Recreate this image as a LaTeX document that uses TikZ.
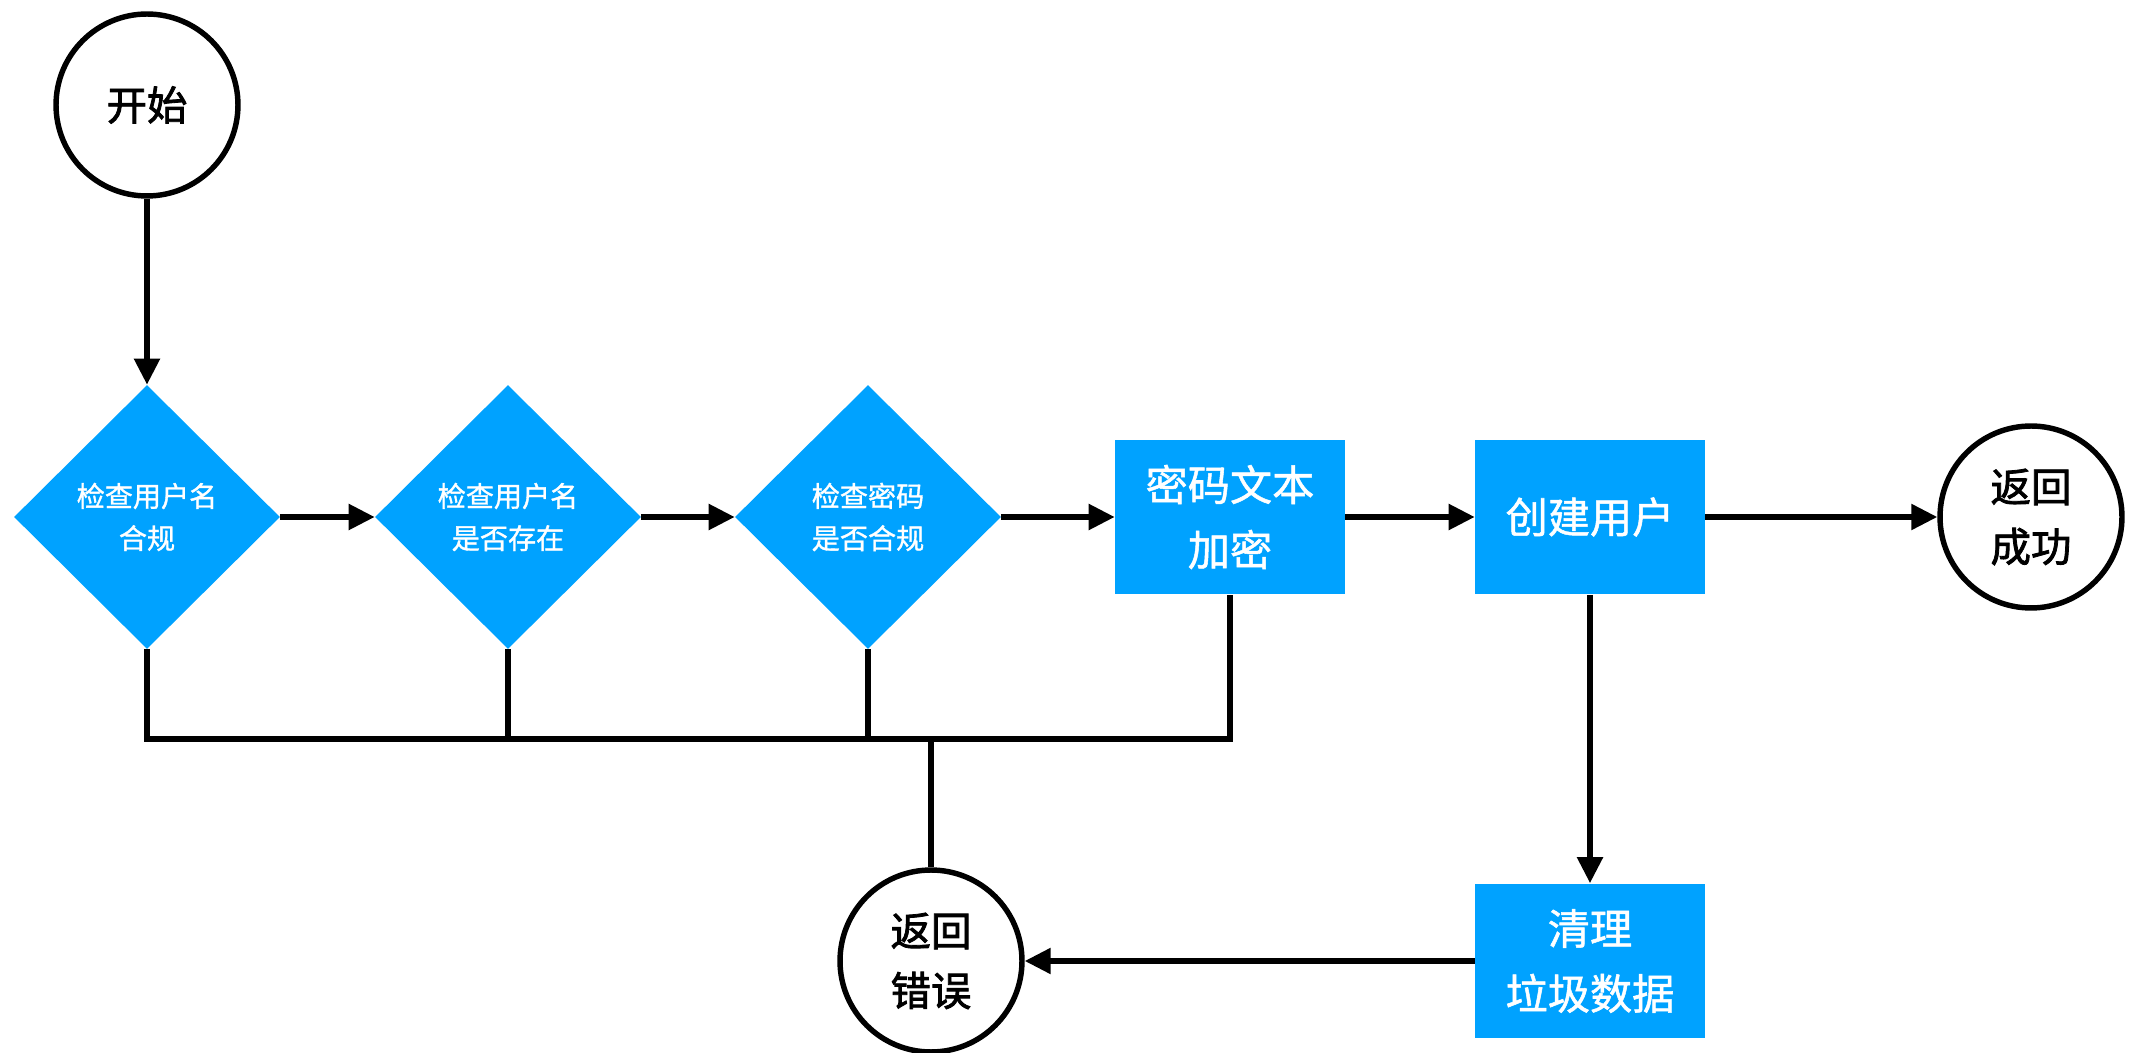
\documentclass[tikz,border=0pt]{standalone}
\usepackage{fontspec}
\newfontfamily\cjk[FakeBold=2]{Noto Sans CJK SC}
\newfontfamily\cjkw[FakeBold=1.2]{Noto Sans CJK SC}
\usetikzlibrary{shapes.geometric,arrows.meta}
\definecolor{fblue}{RGB}{0,162,255}
\begin{document}
\begin{tikzpicture}[x=0.02cm,y=-0.02cm,
  conn/.style={line width=3.1pt},
  arr/.style={conn,-{Triangle[length=0.52cm,width=0.5cm]}},
  term/.style={circle,draw,line width=3.1pt,minimum size=3.64cm,inner sep=0pt,align=center,font=\cjk\fontsize{23}{34}\selectfont},
  decide/.style={diamond,fill=fblue,text=white,minimum width=5.32cm,minimum height=5.28cm,inner sep=0pt,align=center,font=\cjkw\fontsize{16}{24}\selectfont},
  proc/.style={rectangle,fill=fblue,text=white,minimum width=4.6cm,minimum height=3.1cm,inner sep=0pt,align=center,font=\cjkw\fontsize{24}{37}\selectfont}
]
\useasboundingbox (0,0) rectangle (2134,1053);
\node[term] (start) at (147,105) {开始};
\node[decide] (d1) at (147,517) {检查用户名\\合规};
\node[decide] (d2) at (508,517) {检查用户名\\是否存在};
\node[decide] (d3) at (868,517) {检查密码\\是否合规};
\node[proc] (r1) at (1230,517) {密码文本\\加密};
\node[proc] (r2) at (1590,517) {创建用户};
\node[term] (ok) at (2031,517) {返回\\成功};
\node[proc] (r3) at (1590,961) {清理\\垃圾数据};
\node[term] (err) at (931,961) {返回\\错误};
\coordinate (bus) at (931,739);

\draw[arr] (start) -- (d1.north);
\draw[arr] (d1.east) -- (d2.west);
\draw[arr] (d2.east) -- (d3.west);
\draw[arr] (d3.east) -- (r1.west);
\draw[arr] (r1.east) -- (r2.west);
\draw[arr] (r2.east) -- (ok.west);
\draw[arr] (r2.south) -- (r3.north);
\draw[arr] (r3.west) -- (err.east);
\draw[conn] (d1.south) -- (d1.south |- bus) -- (r1.south |- bus) -- (r1.south);
\draw[conn] (d2.south) -- (d2.south |- bus);
\draw[conn] (d3.south) -- (d3.south |- bus);
\draw[conn] (bus) -- (err.north);
\end{tikzpicture}
\end{document}
